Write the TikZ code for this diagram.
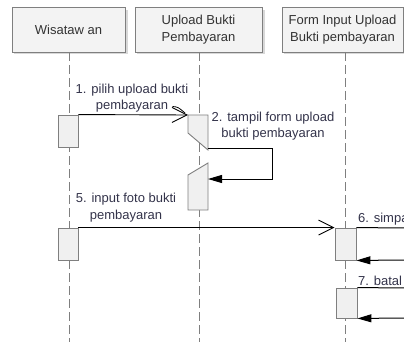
\documentclass[tikz,border=0pt]{standalone}
\usepackage{fontspec}
\setmainfont{Liberation Sans}
\usetikzlibrary{arrows.meta}
\definecolor{txt}{HTML}{33334A}
\definecolor{hdrtxt}{HTML}{333333}
\definecolor{edgegray}{HTML}{7F7F7F}
\definecolor{actfill}{HTML}{F0F0F0}
\definecolor{hdrfill}{HTML}{F3F3F3}
\definecolor{shadowgray}{HTML}{D8D8D8}
\begin{document}
\begin{tikzpicture}[x=1pt,y=-1pt,
  font=\fontsize{13}{16.5}\selectfont,
  hdr/.style={draw=edgegray, line width=0.9pt, fill=hdrfill, text=hdrtxt, align=center, inner sep=0pt, minimum height=45pt},
  act/.style={draw=edgegray, line width=0.9pt, fill=actfill, inner sep=0pt, minimum width=20pt},
  life/.style={draw=edgegray, line width=0.9pt, dash pattern=on 9pt off 4pt},
  msg/.style={draw=black, line width=0.9pt, -{Straight Barb[length=15pt,width=15pt,line width=0.9pt]}},
  ret/.style={draw=black, line width=1pt, -{Triangle[length=14pt,width=8pt]}},
  lbl/.style={text=txt, align=center, inner sep=0pt},
  shadowbox/.style={fill=shadowgray, draw=none}
]
\useasboundingbox (0,0) rectangle (404,342);

% header shadows
\fill[shadowgray] (14,10) rectangle (127.5,54.5);
\fill[shadowgray] (137,10) rectangle (264.5,54.5);
\fill[shadowgray] (284,10) rectangle (405.5,54.5);

% header boxes
\node[hdr, minimum width=113pt] (w) at (68.5,29.5) {Wisataw an};
\node[hdr, minimum width=127pt] (u) at (198.5,29.5) {Upload Bukti\\Pembayaran};
\node[hdr, minimum width=121pt] (f) at (342.5,29.5) {Form Input Upload\\Bukti pembayaran};

% lifelines
\coordinate (wtop) at (69,52);
\coordinate (wbot) at (69,342);
\coordinate (utop) at (199,52);
\coordinate (ubot) at (199,342);
\coordinate (ftop) at (345,52);
\coordinate (fbot) at (345,342);
\draw[life] (wtop) -- (wbot);
\draw[life] (utop) -- (ubot);
\draw[life] (ftop) -- (fbot);

% activation boxes on Wisatawan
\node[act, minimum height=32pt] (a1) at (68,131) {};
\node[act, minimum height=32pt] (a2) at (68,244) {};

% Upload Bukti activations (cut shapes)
\coordinate (u1tl) at (188,115);
\coordinate (u1tr) at (208,115);
\coordinate (u1br) at (208,150);
\coordinate (u1bl) at (188,133);
\filldraw[draw=edgegray, line width=0.9pt, fill=actfill] (u1tl) -- (u1tr) -- (u1br) -- (u1bl) -- cycle;
\coordinate (u2tr) at (208,163);
\coordinate (u2br) at (208,210);
\coordinate (u2bl) at (188,210);
\coordinate (u2tl) at (188,175);
\filldraw[draw=edgegray, line width=0.9pt, fill=actfill] (u2tr) -- (u2br) -- (u2bl) -- (u2tl) -- cycle;

% Form activations
\node[act, minimum width=21pt, minimum height=32pt] (f1) at (345.5,244) {};
\node[act, minimum width=21pt, minimum height=30pt] (f2) at (346.5,303) {};

% message 1
\draw[msg] (a1.north east) -- (u1tl);
\node[lbl] (l1) at (132,98.2) {1. pilih upload bukti\\pembayaran};
\coordinate (lead1) at (172.5,106.5);
\coordinate (lead2) at (185,113);
\draw[black, line width=0.8pt] (lead1) .. controls (178,107) .. (lead2);

% message 2 (self)
\coordinate (s2a) at (208,148);
\coordinate (s2b) at (272,148);
\coordinate (s2c) at (272,179);
\coordinate (s2d) at (208,179);
\draw[ret] (s2a) -- (s2b) -- (s2c) -- (s2d);
\node[lbl] (l2) at (273,126.2) {2. tampil form upload\\bukti pembayaran};

% message 5
\draw[msg] (a2.north east) -- (f1.north west);
\node[lbl] (l5) at (126,207.4) {5. input foto bukti\\pembayaran};

% message 6 (self, cut)
\coordinate (e6a) at (405,228);
\coordinate (e6b) at (405,260);
\draw[black, line width=1pt] (f1.north east) -- (e6a);
\draw[ret] (e6b) -- (f1.south east);
\node[lbl, anchor=base west] (l6) at (358,222.5) {6. simpa};

% message 7 (self, cut)
\coordinate (e7a) at (405,288);
\coordinate (e7b) at (405,318);
\draw[black, line width=1pt] (f2.north east) -- (e7a);
\draw[ret] (e7b) -- (f2.south east);
\node[lbl, anchor=base west] (l7) at (358,285) {7. batal};
\end{tikzpicture}
\end{document}
